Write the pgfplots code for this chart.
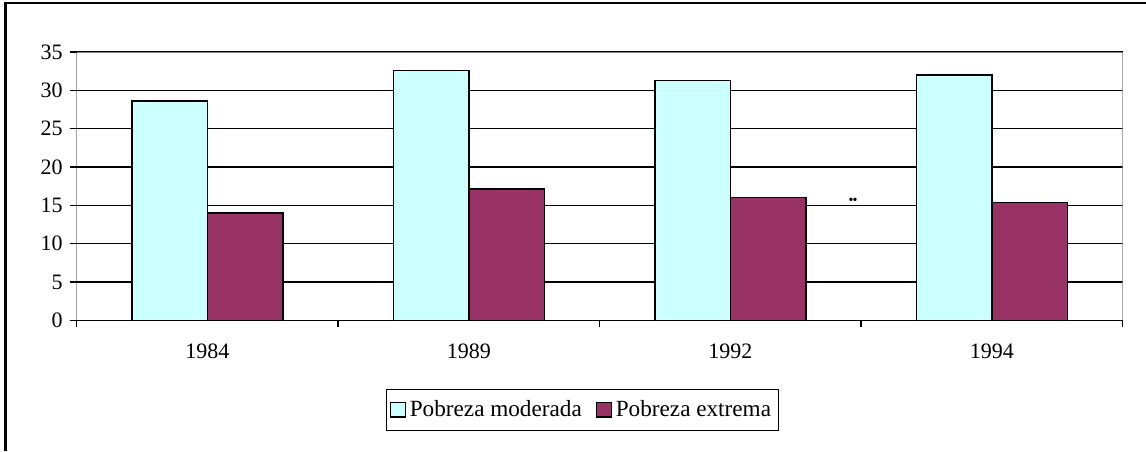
\documentclass[border=0pt]{standalone}
\usepackage{fontspec}
\setmainfont{Liberation Serif}
\usepackage{pgfplots}
\pgfplotsset{compat=1.18}
\definecolor{cMod}{HTML}{CCFFFF}
\definecolor{cExt}{HTML}{993366}
\definecolor{cBorder}{HTML}{808080}
\pgfplotsset{
  sqlegend/.style={legend image code/.code={%
    \draw[##1, line width=0.6pt] (0pt,-3.6pt) rectangle (7.4pt,3.8pt);}},
}

\begin{document}
\begin{tikzpicture}[font=\fontsize{11}{13}\selectfont]
\useasboundingbox (-38.35pt,-65.35pt) rectangle (534.65pt,160.15pt);
\begin{axis}[
  at={(0pt,0pt)}, anchor=south west,
  scale only axis, width=523pt, height=134.15pt,
  xmin=-0.5, xmax=3.5, ymin=0, ymax=35,
  ytick={0,5,...,35}, ymajorgrids,
  grid style={black, line width=0.75pt},
  xtick={-0.5,0.5,1.5,2.5,3.5}, xticklabels={},
  extra x ticks={0,1,2,3}, extra x tick labels={1984,1989,1992,1994},
  extra x tick style={major tick length=0pt, xmajorgrids=false,
    xticklabel style={yshift=-8.3pt}},
  xtick pos=bottom, ytick pos=left,
  tick align=outside, major tick length=3.5pt,
  tick style={black, line width=0.75pt},
  axis line style={draw=none},
  /pgf/number format/assume math mode=true,
  ticklabel style={font=\fontsize{11}{13}\selectfont},
  legend style={at={(0.4835,-0.3332)}, anchor=center, draw=black,
    line width=0.5pt, legend columns=2, inner xsep=1.5pt, inner ysep=3.5pt,
    font=\fontsize{11.6}{13}\selectfont,
    /tikz/every even column/.append style={column sep=5pt}},
  legend cell align=left,
]
\addplot[ybar, bar width=0.288, bar shift=-0.144, fill=cMod, draw=black,
  line width=0.75pt, sqlegend]
  coordinates {(0,28.6) (1,32.6) (2,31.3) (3,32.0)};
\addlegendentry{Pobreza moderada}
\addplot[ybar, bar width=0.288, bar shift=0.144, fill=cExt, draw=black,
  line width=0.75pt, sqlegend]
  coordinates {(0,14.0) (1,17.1) (2,16.0) (3,15.4)};
\addlegendentry{Pobreza extrema}
% plot area border: grey top/right, black left/bottom
\draw[cBorder, line width=1pt] (rel axis cs:0,1) -- (rel axis cs:1,1) -- (rel axis cs:1,0);
\draw[black, line width=0.75pt] (rel axis cs:0,1) -- (rel axis cs:0,0) -- (rel axis cs:1,0);
\node[font=\fontsize{7}{8}\selectfont, inner sep=0pt] at (axis cs:2.469,15.55) {\textbullet\kern-0.5pt\textbullet};
\end{axis}
% outer chart frame (left and top edges only)
\draw[black, line width=1.3pt] (-35.7pt,-65.35pt) -- (-35.7pt,158.65pt) -- (534.65pt,158.65pt);
\end{tikzpicture}
\end{document}
